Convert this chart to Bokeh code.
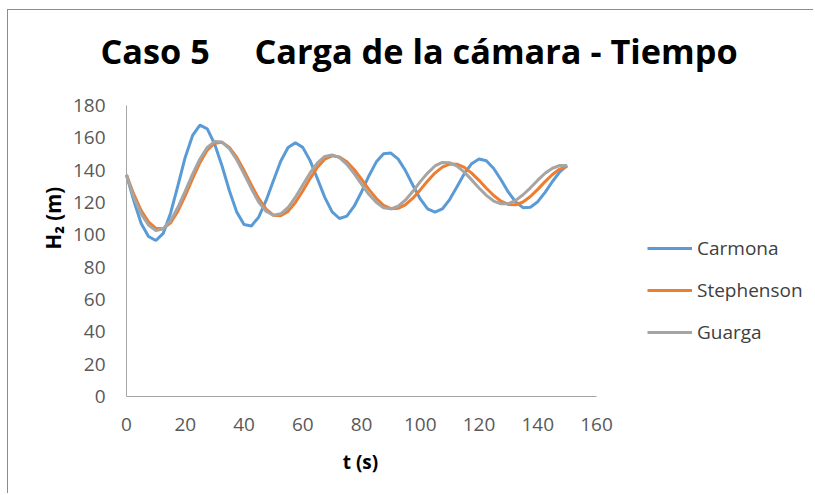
from bokeh.plotting import figure
from bokeh.models import Range1d, FixedTicker, Legend, LegendItem, Label
from bokeh.embed import file_html
from bokeh.resources import INLINE
import math

t = [0, 2.5, 5, 7.5, 10, 12.5, 15, 17.5, 20, 22.5, 25, 27.5, 30, 32.5, 35, 37.5, 40,
     42.5, 45, 47.5, 50, 52.5, 55, 57.5, 60, 62.5, 65, 67.5, 70, 72.5, 75, 77.5, 80,
     82.5, 85, 87.5, 90, 92.5, 95, 97.5, 100, 102.5, 105, 107.5, 110, 112.5, 115, 117.5,
     120, 122.5, 125, 127.5, 130, 132.5, 135, 137.5, 140, 142.5, 145, 147.5, 150]

carmona = [137, 121, 107, 99, 96.5, 100.9, 113.4, 130.5, 148, 161.5, 167.8, 165.6, 156.2,
           142.7, 127.4, 114.2, 106.4, 105.5, 110.9, 121.1, 133.5, 145.5, 154, 157, 154.1,
           145.9, 134.7, 123.2, 114.2, 110.1, 111.6, 117.7, 126.5, 136.4, 145, 150.1, 150.6,
           146.8, 139.6, 130.7, 122.2, 116.1, 114, 116, 121.8, 129.7, 137.8, 144, 146.9,
           145.8, 141, 134.1, 126.4, 120.3, 116.8, 117.1, 120.5, 126.3, 133, 138.9, 143]

stephenson = [137, 125, 115, 108, 104, 103.8, 107.4, 114.6, 124.2, 134.7, 144.6, 152.4, 156.7,
              157.2, 154.1, 148, 139.9, 130.9, 122.5, 115.9, 112.1, 111.8, 114.5, 120, 127.1,
              134.8, 141.8, 146.8, 148.9, 148.2, 145.2, 140.4, 134.4, 128.1, 122.6, 118.3, 116.2,
              116.4, 118.7, 122.7, 127.8, 133.3, 138.2, 141.9, 143.8, 143.7, 141.7, 138.2, 133.7,
              128.8, 124.3, 120.8, 118.8, 118.6, 120.3, 123.7, 128.1, 132.9, 137.3, 140.7, 142.4]

guarga = [137, 123, 113, 106, 102.6, 103.8, 108.8, 117, 127, 137.6, 146.9, 154.1, 157.7,
          157.4, 153.4, 146.5, 137.8, 128.7, 120.3, 114.6, 112.1, 113, 116.9, 123.3, 130.8,
          138.3, 144.5, 148.5, 149.4, 147.7, 143.6, 137.9, 131.4, 125.1, 120.1, 116.8, 116.1,
          117.7, 121.6, 126.9, 132.9, 138.2, 142.6, 144.8, 144.6, 142.5, 138.8, 134, 129,
          124.4, 120.9, 119.2, 119.3, 121.3, 124.8, 129.1, 133.8, 138.1, 141.2, 142.9, 142.9]

x_ticks = [0, 20, 40, 60, 80, 100, 120, 140, 160]
y_ticks = [0, 20, 40, 60, 80, 100, 120, 140, 160, 180]
x_axis_max = 160
y_axis_max = 180

series_names = ["Carmona", "Stephenson", "Guarga"]
series_colors = ["#5B9BD5", "#ED7D31", "#A5A5A5"]

title_text = "Caso 5\u00a0\u00a0\u00a0\u00a0\u00a0Carga de la cámara - Tiempo"
y_label_text = "H\u2082 (m)"
x_label_text = "t (s)"
FONT = "Open Sans"

# ---- layout in pixels (canvas coordinates) ----
W, H = 806, 484
ORIGIN_X, ORIGIN_Y = 118, 98      # axis origin: px from canvas left / bottom
AXIS_W_PX, AXIS_H_PX = 470, 291   # pixel length of the 0-160 / 0-180 axes
sx = AXIS_W_PX / x_axis_max
sy = AXIS_H_PX / y_axis_max
x_range = Range1d(-ORIGIN_X / sx, (W - ORIGIN_X) / sx)
y_range = Range1d(-ORIGIN_Y / sy, (H - ORIGIN_Y) / sy)

p = figure(width=W, height=H, output_backend="svg", toolbar_location=None,
           x_range=x_range, y_range=y_range,
           min_border_left=0, min_border_right=0, min_border_top=0, min_border_bottom=0)
p.styles = {"margin-left": "8px", "margin-top": "10px",
            "box-shadow": "-1px -1px 0 0 #8c8c8c"}
p.outline_line_color = None
p.xgrid.grid_line_color = None
p.ygrid.grid_line_color = None

for ax, ticks, amax in ((p.xaxis, x_ticks, x_axis_max), (p.yaxis, y_ticks, y_axis_max)):
    ax.fixed_location = 0
    ax.ticker = FixedTicker(ticks=ticks)
    ax.bounds = (0, amax)
    ax.major_tick_line_color = None
    ax.minor_tick_line_color = None
    ax.axis_line_color = "#a6a6a6"
    ax.axis_line_width = 1
    ax.major_label_text_font = FONT
    ax.major_label_text_font_size = "19px"
    ax.major_label_text_color = "#595959"
    ax.major_label_standoff = 15

renderers = []
for name, vals, col in zip(series_names, [carmona, stephenson, guarga], series_colors):
    r = p.line(t, vals, line_color=col, line_width=3)
    renderers.append((name, r))

legend = Legend(items=[LegendItem(label=n, renderers=[r]) for n, r in renderers],
                location=(639, 149), orientation="vertical")
legend.label_text_font = FONT
legend.label_text_font_size = "19px"
legend.label_text_color = "#404040"
legend.glyph_width = 45
legend.glyph_height = 20
legend.label_standoff = 5
legend.spacing = 16
legend.padding = 0
legend.margin = 0
legend.border_line_color = None
legend.background_fill_alpha = 0
p.add_layout(legend, "center")

title = Label(x=92, y=444, x_units="screen", y_units="screen", text=title_text,
              text_font=FONT, text_font_style="bold", text_font_size="34.3px",
              text_align="left", text_baseline="alphabetic", text_color="#000000")
p.add_layout(title)

ylab = Label(x=44, y=245, x_units="screen", y_units="screen", text=y_label_text,
             text_font=FONT, text_font_style="bold", text_font_size="20.5px",
             text_align="left", text_baseline="middle", angle=math.pi / 2,
             text_color="#000000")
p.add_layout(ylab)

xlab = Label(x=352, y=33, x_units="screen", y_units="screen", text=x_label_text,
             text_font=FONT, text_font_style="bold", text_font_size="19px",
             text_align="center", text_baseline="middle", text_color="#000000")
p.add_layout(xlab)

open("out.html", "w").write(file_html(p, INLINE))
